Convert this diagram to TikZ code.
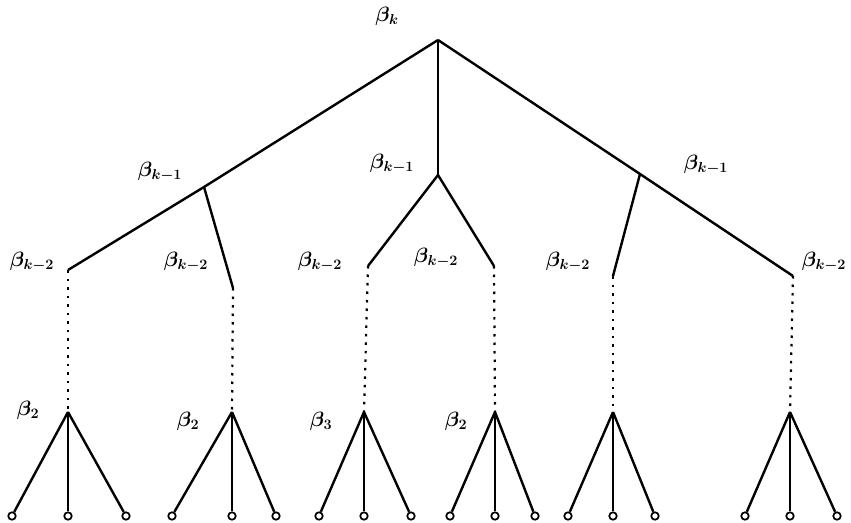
\documentclass[tikz,border=0pt]{standalone}
\usepackage{bm}
\begin{document}
\begin{tikzpicture}[x=1pt,y=-1pt,
  edge/.style={line width=2.4pt},
  dotline/.style={line width=2.2pt,dash pattern=on 2.5pt off 6pt},
  leaf/.style={circle,draw,line width=1.7pt,fill=white,inner sep=0pt,minimum size=7.5pt},
  lab/.style={font=\fontsize{21}{23}\selectfont,inner sep=0pt}]
\useasboundingbox (0,0) rectangle (851,522);
% top levels
\coordinate (r) at (438,40);
\coordinate (a) at (68,270);
\coordinate (b) at (204,187);
\coordinate (b2) at (233,288);
\coordinate (m) at (438,175);
\coordinate (m1) at (368,266);
\coordinate (m2) at (494,266);
\coordinate (c) at (640,174);
\coordinate (c2) at (613,276);
\coordinate (d) at (793,276);
\draw[edge] (r) -- (b) -- (a);
\draw[edge] (b) -- (b2);
\draw[edge] (r) -- (m);
\draw[edge] (m1) -- (m) -- (m2);
\draw[edge] (r) -- (c) -- (d);
\draw[edge] (c) -- (c2);
% bottom apexes
\coordinate (p1) at (68,412);
\coordinate (p2) at (232,412);
\coordinate (p3) at (364,412);
\coordinate (p4) at (495,412);
\coordinate (p5) at (613,412);
\coordinate (p6) at (790,412);
\draw[dotline] (a) -- (p1);
\draw[dotline] (b2) -- (p2);
\draw[dotline] (m1) -- (p3);
\draw[dotline] (m2) -- (p4);
\draw[dotline] (c2) -- (p5);
\draw[dotline] (d) -- (p6);
% leaves
\foreach \p/\l/\c/\r in {p1/12/68/126, p2/172/232/276, p3/319/364/411, p4/450/495/535, p5/568/613/655, p6/745/790/837}{
  \node[leaf] (\p L) at (\l,516) {};
  \node[leaf] (\p C) at (\c,516) {};
  \node[leaf] (\p R) at (\r,516) {};
  \draw[edge] (\p) -- (\p L);
  \draw[edge] (\p) -- (\p C);
  \draw[edge] (\p) -- (\p R);
}
% labels
\node[lab] (tk) at (387,16) {$\bm{\beta_{k}}$};
\node[lab] (t1a) at (160,172) {$\bm{\beta_{k-1}}$};
\node[lab] (t1b) at (392,164) {$\bm{\beta_{k-1}}$};
\node[lab] (t1c) at (706,165) {$\bm{\beta_{k-1}}$};
\node[lab] (t2a) at (32,262) {$\bm{\beta_{k-2}}$};
\node[lab] (t2b) at (186,262) {$\bm{\beta_{k-2}}$};
\node[lab] (t2c) at (320,262) {$\bm{\beta_{k-2}}$};
\node[lab] (t2d) at (436,258) {$\bm{\beta_{k-2}}$};
\node[lab] (t2e) at (568,262) {$\bm{\beta_{k-2}}$};
\node[lab] (t2f) at (824,262) {$\bm{\beta_{k-2}}$};
\node[lab] (t3a) at (28,410) {$\bm{\beta_{2}}$};
\node[lab] (t3b) at (188,421) {$\bm{\beta_{2}}$};
\node[lab] (t3c) at (321,421) {$\bm{\beta_{3}}$};
\node[lab] (t3d) at (456,421) {$\bm{\beta_{2}}$};
\end{tikzpicture}
\end{document}
